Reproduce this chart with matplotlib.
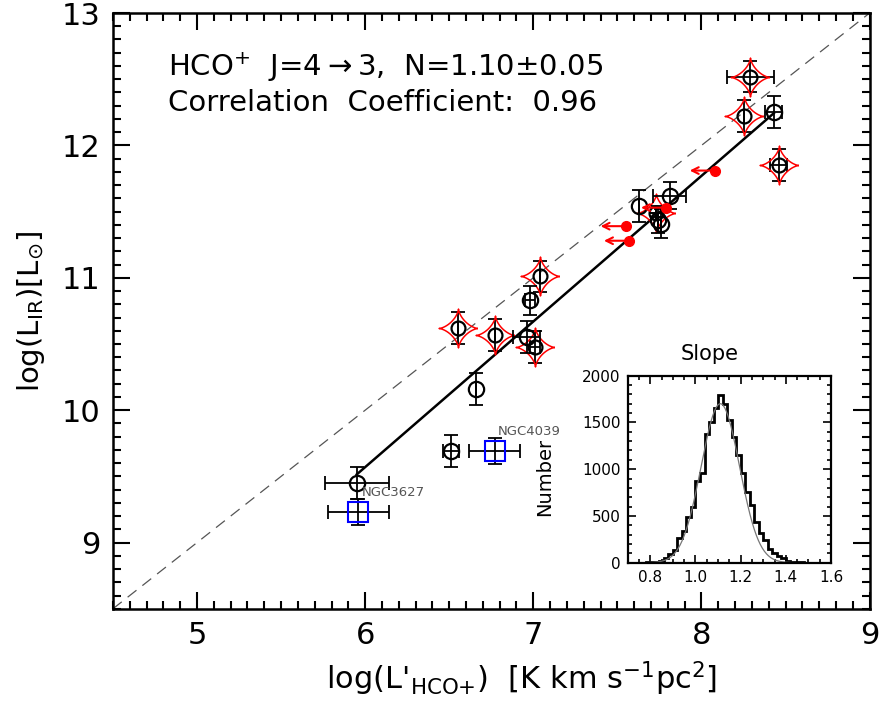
import matplotlib
matplotlib.use('Agg')
import matplotlib.pyplot as plt
from matplotlib.path import Path
from matplotlib.ticker import MultipleLocator
import numpy as np

plt.rcParams['font.family'] = 'DejaVu Sans'
plt.rcParams['mathtext.default'] = 'regular'

# --- data ---
# black open circles
x_circ = [5.95, 6.51, 6.66, 6.98, 6.96, 7.63, 7.81, 7.76, 7.74, 8.43]
y_circ = [9.45, 9.69, 10.16, 10.83, 10.55, 11.54, 11.62, 11.41, 11.44, 12.25]
xerr_circ = [0.19, 0.05, 0.0, 0.03, 0.08, 0.0, 0.10, 0.0, 0.0, 0.05]
yerr_circ = [0.12, 0.12, 0.12, 0.11, 0.12, 0.12, 0.10, 0.11, 0.10, 0.12]

# red four-point stars (with black circle inside)
x_star = [6.55, 6.77, 7.04, 7.01, 8.29, 8.25, 8.46, 7.73]
y_star = [10.62, 10.57, 11.01, 10.48, 12.52, 12.22, 11.85, 11.49]
xerr_star = [0.0, 0.0, 0.0, 0.03, 0.14, 0.0, 0.05, 0.0]
yerr_star = [0.12, 0.12, 0.12, 0.12, 0.12, 0.12, 0.12, 0.0]

# red upper limits
x_lim = [8.08, 7.55, 7.57, 7.79]
y_lim = [11.81, 11.39, 11.28, 11.53]

# blue squares
x_sq = [5.96, 6.77]
y_sq = [9.23, 9.69]
xerr_sq = [0.18, 0.15]
yerr_sq = [0.10, 0.10]
sq_names = ['NGC3627', 'NGC4039']

# fit
slope = 1.10
intercept = 2.97
fit_x = [5.95, 8.43]

# histogram of slope (inset)
hist_edges = np.round(np.arange(0.74, 1.481, 0.02), 2)
hist_counts = [0, 1, 2, 5, 10, 20, 50, 90, 140, 260, 340, 490, 600, 870, 960,
               1380, 1500, 1650, 1790, 1700, 1530, 1345, 1150, 960, 760, 615,
               440, 313, 240, 150, 100, 70, 45, 18, 10, 5, 3]
g_amp, g_mu, g_sig = 1700, 1.11, 0.085

# 4-point star marker (astroid shape)
t = np.linspace(0, 2 * np.pi, 81)
star_path = Path(np.column_stack([np.cos(t) ** 3, np.sin(t) ** 3]))

fig = plt.figure(figsize=(8.82, 7.03), dpi=100)
ax = fig.add_axes([0.128, 0.134, 0.858, 0.8475])

ax.plot([4.5, 9], [8.5, 13], ls=(0, (9, 6)), color='#555555', lw=0.9)
fx = np.array(fit_x)
ax.plot(fx, slope * fx + intercept, color='black', lw=1.8)

ekw = dict(ecolor='black', elinewidth=1.3, capsize=5, capthick=1.3, ls='none')
ax.errorbar(x_star, y_star, xerr=xerr_star, yerr=yerr_star, fmt='none', **ekw)
ax.plot(x_star, y_star, ls='none', marker=star_path, ms=28, mfc='none',
        mec='red', mew=1.1)
ax.plot(x_star, y_star, ls='none', marker='o', ms=10, mfc='none', mec='black', mew=1.6)

ax.errorbar(x_circ, y_circ, xerr=xerr_circ, yerr=yerr_circ, fmt='none', **ekw)
ax.plot(x_circ, y_circ, ls='none', marker='o', ms=11, mfc='none', mec='black', mew=1.6)

for xl, yl in zip(x_lim, y_lim):
    ax.annotate('', xy=(xl - 0.15, yl), xytext=(xl - 0.02, yl),
                arrowprops=dict(arrowstyle='->', color='red', lw=1.5,
                                mutation_scale=12, shrinkA=0, shrinkB=0))
ax.plot(x_lim, y_lim, ls='none', marker='o', ms=7, color='red')

ax.errorbar(x_sq, y_sq, xerr=xerr_sq, yerr=yerr_sq, fmt='none', **ekw)
ax.plot(x_sq, y_sq, ls='none', marker='s', ms=14, mfc='none', mec='blue', mew=1.5)
for xs, ys, nm in zip(x_sq, y_sq, sq_names):
    ax.text(xs + 0.02, ys + 0.15, nm, fontsize=9.5, color='#555555', ha='left', va='center')

ax.text(0.073, 0.909, r'HCO$^{+}$  J=4${\rightarrow}$3,  N=1.10$\pm$0.05', transform=ax.transAxes,
        fontsize=21, va='center', ha='left')
ax.text(0.073, 0.849, 'Correlation  Coefficient:  0.96', transform=ax.transAxes,
        fontsize=21, va='center', ha='left')

ax.set_xlim(4.5, 9)
ax.set_ylim(8.5, 13)
ax.xaxis.set_major_locator(MultipleLocator(1))
ax.xaxis.set_minor_locator(MultipleLocator(0.1))
ax.yaxis.set_major_locator(MultipleLocator(1))
ax.yaxis.set_minor_locator(MultipleLocator(0.1))
ax.tick_params(which='both', direction='in', top=True, right=True, width=1.5)
ax.tick_params(which='major', length=12, labelsize=22, pad=9)
ax.tick_params(which='minor', length=6)
for s in ax.spines.values():
    s.set_linewidth(1.8)

ax.set_xlabel(r"log(L'$_{\rm HCO{+}}$)  [K km s$^{-1}$pc$^{2}$]", fontsize=22)
ax.xaxis.set_label_coords(0.54, -0.085)
ax.set_ylabel(r'log(L$_{\rm IR}$)[L$_{\odot}$]', fontsize=21)
ax.yaxis.set_label_coords(-0.087, 0.5)

# inset
ins = fig.add_axes([0.7117, 0.1996, 0.2305, 0.266])
ins.stairs(hist_counts, hist_edges, color='black', lw=2)
gx = np.linspace(0.7, 1.6, 300)
ins.plot(gx, g_amp * np.exp(-0.5 * ((gx - g_mu) / g_sig) ** 2), color='#777777', lw=0.9)
ins.set_xlim(0.7, 1.6)
ins.set_ylim(0, 2000)
ins.xaxis.set_major_locator(MultipleLocator(0.2))
ins.xaxis.set_minor_locator(MultipleLocator(0.05))
ins.yaxis.set_major_locator(MultipleLocator(500))
ins.yaxis.set_minor_locator(MultipleLocator(100))
ins.tick_params(which='both', direction='in', top=True, right=True, width=1.2)
ins.tick_params(which='major', length=6, labelsize=11, pad=5)
ins.tick_params(which='minor', length=3)
for s in ins.spines.values():
    s.set_linewidth(1.6)
ins.text(0.405, 1.116, 'Slope', transform=ins.transAxes, fontsize=15, ha='center', va='center')
ins.set_ylabel('Number', fontsize=14)
ins.yaxis.set_label_coords(-0.36, 0.46)

fig.savefig('out.png', dpi=100)
